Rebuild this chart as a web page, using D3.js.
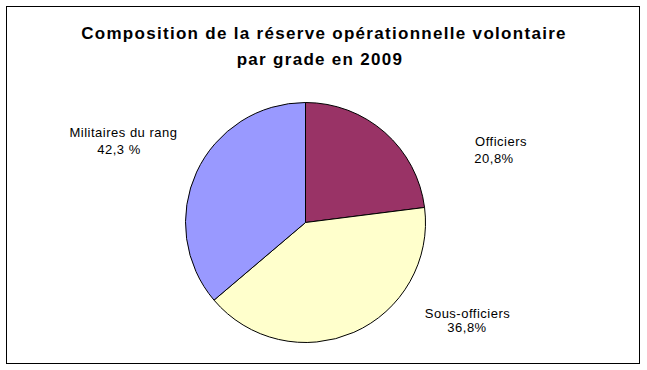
<!DOCTYPE html>
<html>
<head>
<meta charset="utf-8">
<script src="https://cdn.jsdelivr.net/npm/d3@7/dist/d3.min.js"></script>
<style>
  html, body { margin: 0; padding: 0; background: #fff; }
  svg { display: block; }
</style>
</head>
<body>
<svg id="chart" width="647" height="370"></svg>
<script>
// Data
const categories = ["Officiers", "Sous-officiers", "Militaires du rang"];
// slice shares as drawn in the picture (percent)
const values = [23.0, 40.8, 36.2];
// percentage labels as printed on the picture
const valueLabels = ["20,8%", "36,8%", "42,3 %"];
const colors = ["#993366", "#FFFFCC", "#9999FF"];
const titleLines = ["Composition de la réserve opérationnelle volontaire", "par grade en 2009"];

const svg = d3.select("#chart");
const W = 647, H = 370;

// outer frame
svg.append("rect").attr("x", 6.5).attr("y", 6.5).attr("width", 633).attr("height", 357)
  .attr("fill", "#fff").attr("stroke", "#000").attr("stroke-width", 1);

// title
svg.append("text")
  .attr("x", 324).attr("y", 39)
  .attr("text-anchor", "middle")
  .style("font-family", "'Liberation Sans', Arial, sans-serif")
  .style("font-weight", "bold").style("font-size", "17px").style("letter-spacing", "1.3px")
  .text(titleLines[0]);
svg.append("text")
  .attr("x", 320).attr("y", 65)
  .attr("text-anchor", "middle")
  .style("font-family", "'Liberation Sans', Arial, sans-serif")
  .style("font-weight", "bold").style("font-size", "17px").style("letter-spacing", "1.3px")
  .text(titleLines[1]);

// pie
const cx = 305.5, cy = 222.5, R = 120;
const pie = d3.pie().sort(null).value(d => d.v).startAngle(0).endAngle(2 * Math.PI);
const arc = d3.arc().innerRadius(0).outerRadius(R);
const data = categories.map((c, i) => ({ c, v: values[i], col: colors[i], lab: valueLabels[i] }));
const arcs = pie(data);

const g = svg.append("g").attr("transform", `translate(${cx},${cy})`);
g.selectAll("path").data(arcs).enter().append("path")
  .attr("d", arc)
  .attr("fill", d => d.data.col)
  .attr("stroke", "#000").attr("stroke-width", 1).attr("stroke-linejoin", "round");

// labels (category + percentage) placed where the picture shows them
const labelPos = [
  { x1: 501, y1: 146, x2: 494, y2: 163 },
  { x1: 467.5, y1: 318, x2: 467, y2: 332 },
  { x1: 123.5, y1: 137, x2: 119, y2: 154 }
];
const lab = svg.append("g")
  .style("font-family", "'Liberation Sans', Arial, sans-serif")
  .style("font-size", "13px").style("letter-spacing", "0.5px").attr("fill", "#000");
arcs.forEach((a, i) => {
  const p = labelPos[i];
  lab.append("text").attr("x", p.x1).attr("y", p.y1).attr("text-anchor", "middle").text(a.data.c);
  lab.append("text").attr("x", p.x2).attr("y", p.y2).attr("text-anchor", "middle").text(a.data.lab);
});
</script>
</body>
</html>
